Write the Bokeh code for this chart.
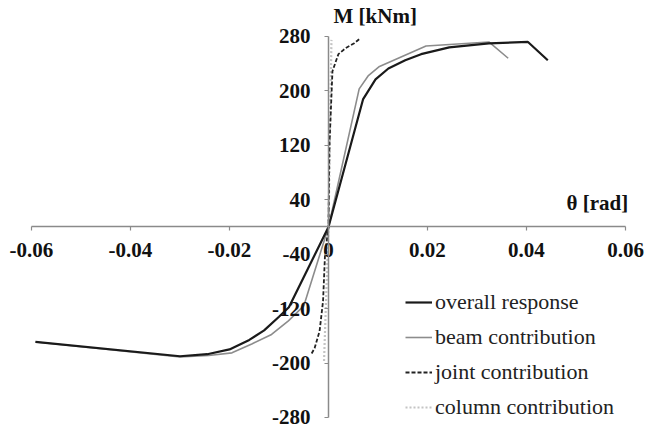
from bokeh.plotting import figure
from bokeh.models import (Range1d, FixedTicker, CustomJSTickFormatter, Label,
                          Legend, LegendItem)
from bokeh.embed import file_html
from bokeh.resources import INLINE

# ---- data ----
overall_theta = [-0.0592, -0.0300, -0.0245, -0.0200, -0.0160, -0.0130, -0.0100, -0.0080, 0.0,
                 0.0070, 0.0095, 0.0121, 0.0155, 0.0187, 0.0244, 0.0324, 0.0403, 0.0443]
overall_M = [-169, -190, -187, -180, -166, -152, -132, -118, 0,
             188, 217, 233, 245, 254, 264, 270, 272, 245]

beam_theta = [-0.0592, -0.0300, -0.0242, -0.0195, -0.0155, -0.0115, -0.0081, -0.0050, 0.0,
              0.0062, 0.0080, 0.0103, 0.0197, 0.0324, 0.0363]
beam_M = [-169, -191, -189, -185, -172, -158, -138, -116, 0,
          203, 222, 236, 266, 272, 248]

joint_theta = [-0.0034, -0.0028, -0.0018, -0.0011, -0.0007, 0.0, 0.0002, 0.0008, 0.0020, 0.0035, 0.0052, 0.0062]
joint_M = [-186, -178, -153, -109, -40, 0, 122, 229, 254, 263, 270, 276]

column_theta = [-0.0009, 0.0, 0.0006]
column_M = [-197, 0, 275]

x_ticks = [-0.06, -0.04, -0.02, 0.0, 0.02, 0.04, 0.06]
y_ticks = [-280, -200, -120, -40, 40, 120, 200, 280]

series_names = ["overall response", "beam contribution", "joint contribution", "column contribution"]

SERIF = "Liberation Serif"

p = figure(width=645, height=431,
           x_range=Range1d(-0.06626, 0.06404), y_range=Range1d(-300.6, 332.9),
           output_backend="svg", toolbar_location=None,
           min_border_left=0, min_border_right=0, min_border_top=0, min_border_bottom=0)
p.background_fill_color = "white"
p.border_fill_color = "white"
p.outline_line_color = None
p.grid.visible = False

# axes crossing at zero
p.xaxis.fixed_location = 0
p.yaxis.fixed_location = 0
p.xaxis.bounds = (-0.06, 0.06)
p.yaxis.bounds = (-280, 280)
p.xaxis.ticker = FixedTicker(ticks=x_ticks)
p.yaxis.ticker = FixedTicker(ticks=y_ticks)
p.xaxis.formatter = CustomJSTickFormatter(code="return tick == 0 ? '0' : tick.toFixed(2);")
p.yaxis.formatter = CustomJSTickFormatter(code="return tick.toFixed(0);")
for ax in (p.xaxis, p.yaxis):
    ax.axis_line_color = "#8a8a8a"
    ax.axis_line_width = 1.5
    ax.major_tick_line_color = "#8a8a8a"
    ax.major_tick_line_width = 1.2
    ax.major_tick_out = 4
    ax.major_tick_in = 0
    ax.minor_tick_line_color = None
    ax.major_label_text_font = SERIF
    ax.major_label_text_font_style = "bold"
    ax.major_label_text_font_size = "21px"
    ax.major_label_text_color = "#111111"
p.xaxis.major_label_standoff = 12
p.yaxis.major_label_standoff = 14

# curves
r_col = p.line(column_theta, column_M, line_color="#c4c4c4", line_width=2.2, line_dash="2 2")
r_beam = p.line(beam_theta, beam_M, line_color="#8c8c8c", line_width=1.6)
r_joint = p.line(joint_theta, joint_M, line_color="#222222", line_width=1.8, line_dash="4 2")
r_all = p.line(overall_theta, overall_M, line_color="#1a1a1a", line_width=2.2)

legend = Legend(items=[LegendItem(label=series_names[0], renderers=[r_all]),
                       LegendItem(label=series_names[1], renderers=[r_beam]),
                       LegendItem(label=series_names[2], renderers=[r_joint]),
                       LegendItem(label=series_names[3], renderers=[r_col])],
                location=(405, 11))
legend.background_fill_alpha = 0
legend.border_line_color = None
legend.padding = 0
legend.margin = 0
legend.spacing = 9
legend.glyph_width = 27
legend.glyph_height = 20
legend.label_standoff = 3
legend.label_text_font = SERIF
legend.label_text_font_size = "22px"
legend.label_text_color = "#222222"
p.add_layout(legend, "center")

# axis titles
p.add_layout(Label(x=0.00101, y=292, text="M [kNm]", text_font=SERIF, text_font_style="bold",
                   text_font_size="21px", text_color="#111111"))
p.add_layout(Label(x=0.0481, y=18, text="θ [rad]", text_font=SERIF, text_font_style="bold",
                   text_font_size="21px", text_color="#111111"))

open("out.html", "w").write(file_html(p, INLINE))
